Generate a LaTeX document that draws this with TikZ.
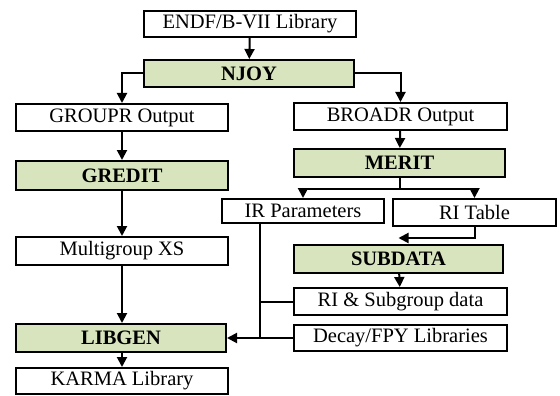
\documentclass[tikz,border=0pt]{standalone}
\usepackage{fontspec}
\setmainfont{Liberation Serif}
\usetikzlibrary{arrows.meta}
\definecolor{Tool}{RGB}{215, 228, 189}

\tikzset{
    databox/.style={draw, line width=2pt, fill=white, inner sep=0pt,
        font=\fontsize{20.5}{24}\selectfont},
    toolbox/.style={databox, fill=Tool, font=\fontsize{20.5}{24}\selectfont\bfseries},
    arr/.style={line width=2pt, -{Triangle[width=10pt,length=10pt]}},
    ln/.style={line width=2pt}
}

\begin{document}
\begin{tikzpicture}[x=1pt,y=-1pt]
    %% Background
    \useasboundingbox (0,0) rectangle (560,396);

    %% Left column
    \node[databox, minimum width=212pt, minimum height=26pt] (endf) at (250,24) {ENDF/B-VII Library};
    \node[toolbox, minimum width=210pt, minimum height=27pt] (njoy) at (249,73.5) {NJOY};
    \node[databox, minimum width=212pt, minimum height=27pt] (groupr) at (122,117.5) {GROUPR Output};
    \node[toolbox, minimum width=212pt, minimum height=29pt] (gredit) at (122,175.5) {GREDIT};
    \node[databox, minimum width=212pt, minimum height=28pt] (mgxs) at (122,251) {Multigroup XS};
    \node[toolbox, minimum width=210pt, minimum height=28pt] (libgen) at (121,338) {LIBGEN};
    \node[databox, minimum width=212pt, minimum height=26pt] (karma) at (122,381) {KARMA Library};

    %% Right column
    \node[databox, minimum width=213pt, minimum height=27pt] (broadr) at (400.5,116.5) {BROADR Output};
    \node[toolbox, minimum width=211pt, minimum height=28pt] (merit) at (399.5,163) {MERIT};
    \node[databox, minimum width=162pt, minimum height=24pt] (irpar) at (303,211) {IR Parameters};
    \node[databox, minimum width=163pt, minimum height=27pt] (ritab) at (474.5,212.5) {RI Table};
    \node[toolbox, minimum width=209pt, minimum height=28pt] (subdata) at (398.5,259) {SUBDATA};
    \node[databox, minimum width=213pt, minimum height=27pt] (risub) at (400.5,301.5) {RI \& Subgroup data};
    \node[databox, minimum width=213pt, minimum height=26pt] (decay) at (400.5,338) {Decay/FPY Libraries};

    %% Connectors
    \draw[arr] (endf) -- (njoy);
    \draw[arr] (njoy.west) -| (groupr);
    \draw[arr] (njoy.east) -| (broadr);
    \draw[arr] (groupr) -- (gredit);
    \draw[arr] (gredit) -- (mgxs);
    \draw[arr] (mgxs.south) -- (mgxs.south |- libgen.north);
    \draw[arr] (libgen.south -| mgxs) -- (karma.north -| mgxs);

    \draw[arr] (broadr) -- (merit);
    \draw[arr] (merit.south) -- ++(0,11) -| (irpar);
    \draw[arr] (merit.south) -- ++(0,11) -| (ritab);
    \draw[arr] (ritab.south) |- ([yshift=6pt]subdata.north);
    \draw[arr] (subdata) -- (risub);

    \coordinate (join) at (260,338);
    \draw[ln] (irpar.south -| join) -- (join);
    \draw[ln] (risub.west) -- (risub.west -| join);
    \draw[arr] (decay.west) -- (libgen.east);

\end{tikzpicture}
\end{document}
